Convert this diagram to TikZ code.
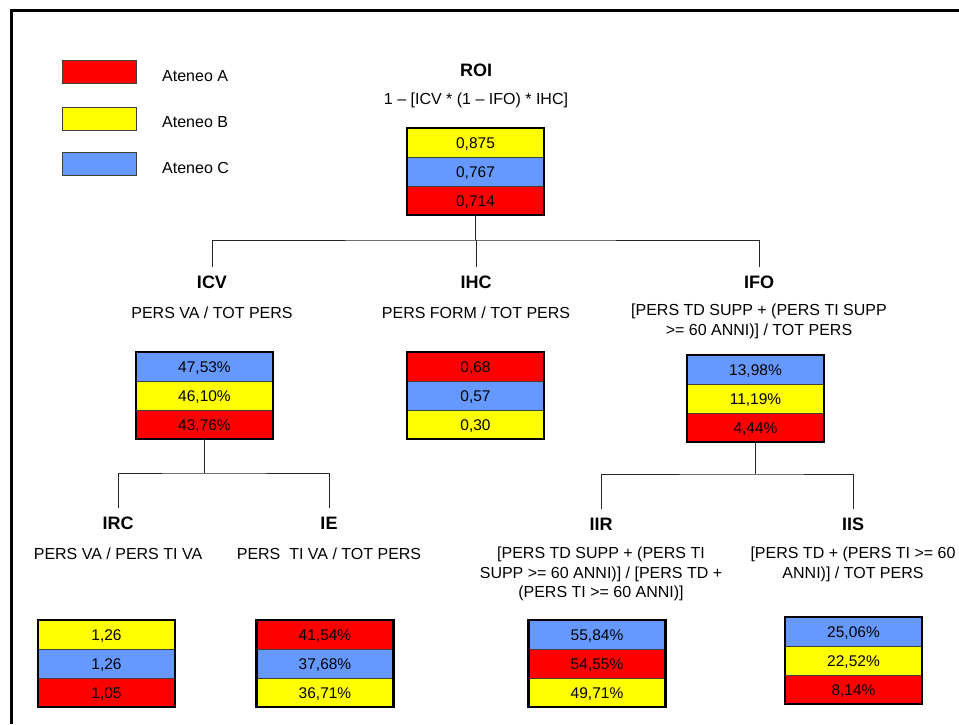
\documentclass[tikz,border=0pt]{standalone}
\usepackage{fontspec}
\setmainfont{Liberation Sans}
\usepackage{xcolor}
\usetikzlibrary{positioning}
\definecolor{ateneoA}{RGB}{255,0,0}
\definecolor{ateneoB}{RGB}{255,255,0}
\definecolor{ateneoC}{RGB}{102,153,255}

\begin{document}
\begin{tikzpicture}[x=1pt,y=-1pt,
  txt/.style={font=\fontsize{16}{19.5}\selectfont,align=center,inner sep=1pt},
  head/.style={font=\fontsize{18}{21}\selectfont\bfseries,inner sep=2pt,outer ysep=7pt},
  cell/.style={draw=black!75,line width=0.6pt,outer sep=0pt,minimum width=137pt,minimum height=29pt,inner sep=0pt,text height=11.2pt,text depth=0pt,font=\fontsize{15.5}{18}\selectfont},
  rA/.style={cell,fill=ateneoA},
  rB/.style={cell,fill=ateneoB},
  rC/.style={cell,fill=ateneoC},
  key/.style={draw=black!75,line width=0.6pt,minimum width=74pt,minimum height=23pt,inner sep=0pt},
  frame/.style={line width=2.6pt},
  link/.style={line width=0.9pt,draw=black!85}]
  \useasboundingbox (0,0) rectangle (959,724);
  \draw[frame] (11.5,724) -- (11.5,10.5) -- (959,10.5);
  % legend
  \node[key,fill=ateneoA] (keyA) at (99,71.5) {};
  \node[key,fill=ateneoB] (keyB) at (99,118.5) {};
  \node[key,fill=ateneoC] (keyC) at (99,163.5) {};
  \node[txt,anchor=west] (labA) at (161,76) {Ateneo A};
  \node[txt,anchor=west] (labB) at (161,122.5) {Ateneo B};
  \node[txt,anchor=west] (labC) at (161,168) {Ateneo C};
  % ROI
  \node[head] (roi) at (476,70) {ROI};
  \node[txt] (roiF) at (476,100) {1 – [ICV * (1 – IFO) * IHC]};
  \node[rB] (roi1) at (475.5,142.5) {0,875};
  \node[rC,below=0pt of roi1] (roi2) {0,767};
  \node[rA,below=0pt of roi2] (roi3) {0,714};
  \draw[frame] (roi1.north west) rectangle (roi3.south east);
  % ICV
  \node[head] (icv) at (212,282) {ICV};
  \node[txt] (icvF) at (212,313) {PERS VA / TOT PERS};
  \node[rC] (icv1) at (204.5,366.5) {47,53\%};
  \node[rB,below=0pt of icv1] (icv2) {46,10\%};
  \node[rA,below=0pt of icv2] (icv3) {43,76\%};
  \draw[frame] (icv1.north west) rectangle (icv3.south east);
  % IHC
  \node[head] (ihc) at (476,282) {IHC};
  \node[txt] (ihcF) at (476,313) {PERS FORM / TOT PERS};
  \node[rA] (ihc1) at (475.5,366.5) {0,68};
  \node[rC,below=0pt of ihc1] (ihc2) {0,57};
  \node[rB,below=0pt of ihc2] (ihc3) {0,30};
  \draw[frame] (ihc1.north west) rectangle (ihc3.south east);
  % IFO
  \node[head] (ifo) at (759,282) {IFO};
  \node[txt] (ifoF) at (759,321.5) {[PERS TD SUPP + (PERS TI SUPP\\>= 60 ANNI)] / TOT PERS};
  \node[rC] (ifo1) at (755.5,369.5) {13,98\%};
  \node[rB,below=0pt of ifo1] (ifo2) {11,19\%};
  \node[rA,below=0pt of ifo2] (ifo3) {4,44\%};
  \draw[frame] (ifo1.north west) rectangle (ifo3.south east);
  % IRC
  \node[head] (irc) at (118,523) {IRC};
  \node[txt] (ircF) at (118,554) {PERS VA / PERS TI VA};
  \node[rB] (irc1) at (106.5,634.5) {1,26};
  \node[rC,below=0pt of irc1] (irc2) {1,26};
  \node[rA,below=0pt of irc2] (irc3) {1,05};
  \draw[frame] (irc1.north west) rectangle (irc3.south east);
  % IE
  \node[head] (ie) at (329,523) {IE};
  \node[txt] (ieF) at (329,554) {PERS \ TI VA / TOT PERS};
  \node[rA] (ie1) at (325,634.5) {41,54\%};
  \node[rC,below=0pt of ie1] (ie2) {37,68\%};
  \node[rB,below=0pt of ie2] (ie3) {36,71\%};
  \draw[frame] (ie1.north west) rectangle (ie3.south east);
  % IIR
  \node[head] (iir) at (601,524) {IIR};
  \node[txt] (iirF) at (601,574) {[PERS TD SUPP + (PERS TI\\SUPP >= 60 ANNI)] / [PERS TD +\\(PERS TI >= 60 ANNI)]};
  \node[rC] (iir1) at (597,634.5) {55,84\%};
  \node[rA,below=0pt of iir1] (iir2) {54,55\%};
  \node[rB,below=0pt of iir2] (iir3) {49,71\%};
  \draw[frame] (iir1.north west) rectangle (iir3.south east);
  % IIS
  \node[head] (iis) at (853,524) {IIS};
  \node[txt] (iisF) at (853,564.5) {[PERS TD + (PERS TI >= 60\\ANNI)] / TOT PERS};
  \node[rC] (iis1) at (853.5,631.5) {25,06\%};
  \node[rB,below=0pt of iis1] (iis2) {22,52\%};
  \node[rA,below=0pt of iis2] (iis3) {8,14\%};
  \draw[frame] (iis1.north west) rectangle (iis3.south east);
  % connectors
  \path (roi3.south) ++(0,25) coordinate (busroi);
  \draw[link] (roi3.south) -- (busroi);
  \draw[link] (icv.north) |- (busroi) -| (ifo.north);
  \draw[link] (ihc.north) -- (ihc.north |- busroi);
  \path (icv3.south) ++(0,34) coordinate (busicv);
  \draw[link] (icv3.south) -- (busicv);
  \draw[link] (irc.north) |- (busicv) -| (ie.north);
  \path (ifo3.south) ++(0,32) coordinate (busifo);
  \draw[link] (ifo3.south) -- (busifo);
  \draw[link] (iir.north) |- (busifo) -| (iis.north);
\end{tikzpicture}
\end{document}
